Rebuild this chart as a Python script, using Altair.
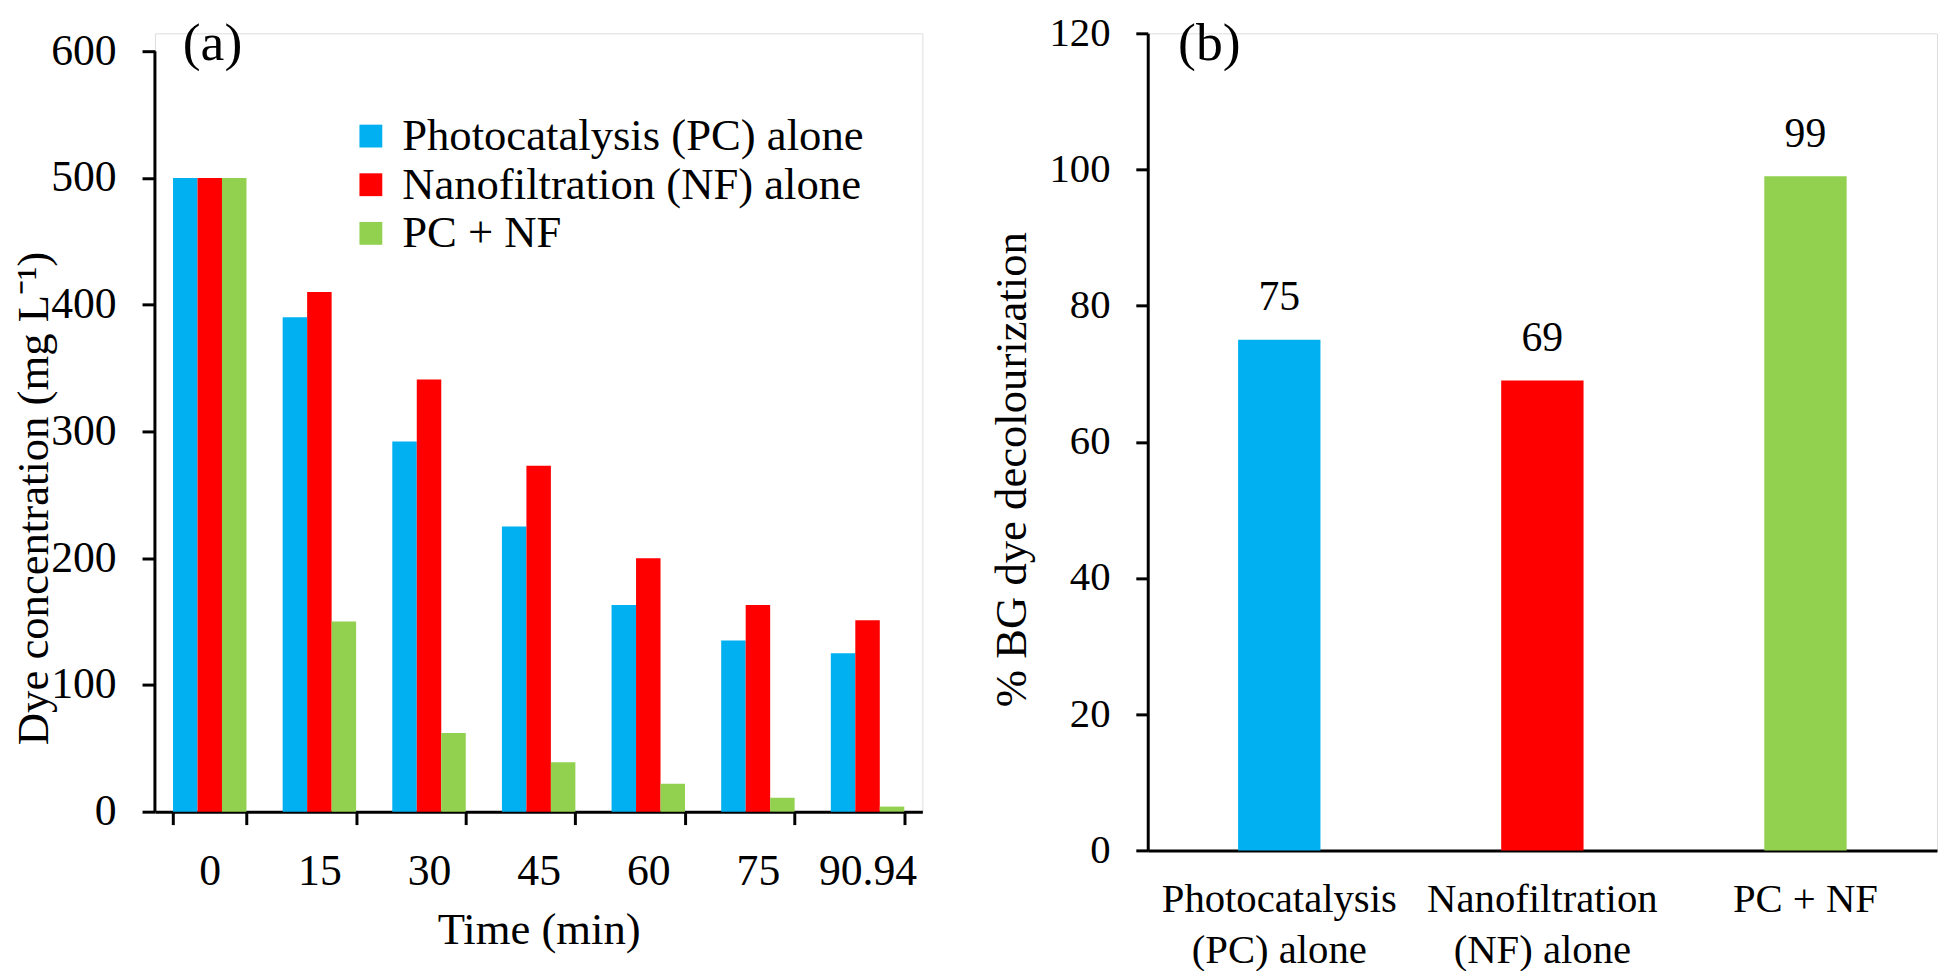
import altair as alt
import pandas as pd

FONT = "Liberation Serif"

# ---- panel (a) data ----
times = ["0", "15", "30", "45", "60", "75", "90.94"]
series = ["Photocatalysis (PC) alone", "Nanofiltration (NF) alone", "PC + NF"]
pc_alone = [500, 390, 292, 225, 163, 135, 125]
nf_alone = [500, 410, 341, 273, 200, 163, 151]
pc_nf = [500, 150, 62, 39, 22, 11, 4]
colors = ["#00B0F0", "#FF0000", "#92D050"]
y_ticks_a = [0, 100, 200, 300, 400, 500, 600]

# ---- panel (b) data ----
methods = ["Photocatalysis\n(PC) alone", "Nanofiltration\n(NF) alone", "PC + NF"]
decolour = [75, 69, 99]
y_ticks_b = [0, 20, 40, 60, 80, 100, 120]

rows = []
for s, vals in zip(series, [pc_alone, nf_alone, pc_nf]):
    for t, v in zip(times, vals):
        rows.append({"Time": t, "Series": s, "Conc": v})
df_a = pd.DataFrame(rows)
df_b = pd.DataFrame({"Method": methods, "Pct": decolour})

H_A = 784
W_A = 773
H_B = 823
W_B = 795

axis_common = dict(
    labelFont=FONT, titleFont=FONT, labelColor="black", titleColor="black",
    domainColor="black", tickColor="black", titleFontWeight="normal",
    grid=False,
)

bars_a = alt.Chart(df_a).mark_bar().encode(
    x=alt.X("Time:N", sort=times,
            scale=alt.Scale(paddingInner=0.33, paddingOuter=0.165),
            axis=alt.Axis(title="Time (min)", labelAngle=0, tickBand="extent",
                          tickSize=13, tickWidth=3, domainWidth=3,
                          labelFontSize=44, labelPadding=25, titleFontSize=45,
                          titleBaseline="alphabetic", titleY=133, **axis_common)),
    xOffset=alt.XOffset("Series:N", sort=series),
    y=alt.Y("Conc:Q", scale=alt.Scale(domain=[0, 614.1], nice=False),
            axis=alt.Axis(values=y_ticks_a, domain=False, tickSize=13, tickWidth=3,
                          labelFontSize=44, labelPadding=26,
                          title="Dye concentration (mg L\u207b\u00b9)", titleFontSize=45,
                          titleX=-108, titleY=468, titleBaseline="alphabetic",
                          **axis_common)),
    color=alt.Color("Series:N", sort=series,
                    scale=alt.Scale(domain=series, range=colors),
                    legend=alt.Legend(title=None, orient="none", legendX=195, legendY=81,
                                      symbolType="square", symbolSize=529,
                                      symbolStrokeWidth=0, labelFontSize=45,
                                      labelFont=FONT, labelColor="black",
                                      labelOffset=9, rowPadding=3, padding=0,
                                      labelLimit=0)),
)

axis_line_a = alt.Chart(pd.DataFrame({"Conc": [0], "Top": [600]})).mark_rule(
    color="black", strokeWidth=3
).encode(x=alt.value(0), y="Conc:Q", y2="Top:Q")

tag_a = alt.Chart(pd.DataFrame({"t": ["(a)"]})).mark_text(
    font=FONT, fontSize=54, color="black", baseline="middle", align="center"
).encode(x=alt.value(58), y=alt.value(11), text="t:N")

panel_a = alt.layer(bars_a, axis_line_a, tag_a).properties(width=W_A, height=H_A)

base_b = alt.Chart(df_b)
bars_b = base_b.mark_bar().encode(
    x=alt.X("Method:N", sort=methods,
            scale=alt.Scale(paddingInner=0.687, paddingOuter=0.3435),
            axis=alt.Axis(title=None, labelAngle=0, ticks=False, domainWidth=3,
                          labelExpr="split(datum.label, '\\n')", labelLineHeight=51,
                          labelFontSize=41, labelPadding=30, labelBaseline="top",
                          labelLimit=0, **axis_common)),
    y=alt.Y("Pct:Q", scale=alt.Scale(domain=[0, 120], nice=False),
            axis=alt.Axis(values=y_ticks_b, tickSize=12, tickWidth=3, domainWidth=3,
                          labelFontSize=41, labelPadding=26,
                          title="% BG dye decolourization", titleFontSize=45,
                          titleX=-123, titleY=439, titleBaseline="alphabetic",
                          **axis_common)),
    color=alt.Color("Method:N", sort=methods,
                    scale=alt.Scale(domain=methods, range=colors), legend=None),
)
labels_b = base_b.mark_text(
    font=FONT, fontSize=42, color="black", baseline="alphabetic", dy=-30
).encode(
    x=alt.X("Method:N", sort=methods),
    y=alt.Y("Pct:Q"),
    text=alt.Text("Pct:Q"),
)
tag_b = alt.Chart(pd.DataFrame({"t": ["(b)"]})).mark_text(
    font=FONT, fontSize=54, color="black", baseline="middle", align="center"
).encode(x=alt.value(62), y=alt.value(11), text="t:N")

panel_b = alt.layer(bars_b, labels_b, tag_b).properties(width=W_B, height=H_B)

chart = alt.hconcat(panel_a, panel_b, spacing=66).resolve_scale(
    color="independent", x="independent", y="independent"
).properties(
    padding={"left": 3, "top": 0, "right": 0, "bottom": 0}
).configure_view(stroke=None).configure(font=FONT)

chart.save("out.html", embed_options={"renderer": "svg", "actions": False})
